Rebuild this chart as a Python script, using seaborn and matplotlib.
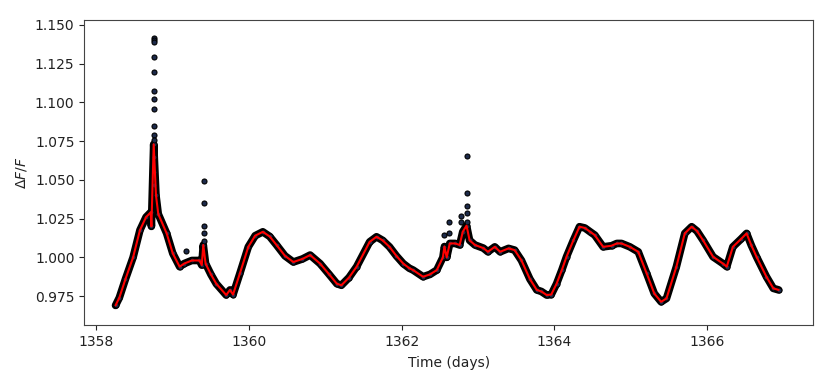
import numpy as np
import pandas as pd
import seaborn as sns
import matplotlib
matplotlib.use("Agg")
import matplotlib.pyplot as plt

###
### DATA
###

# smoothed flux trace
time_days = [
    1358.25, 1358.30, 1358.38, 1358.48, 1358.57, 1358.65, 1358.71, 1358.72,
    1358.75, 1358.78, 1358.81, 1358.92, 1359.00, 1359.09, 1359.15, 1359.25,
    1359.35, 1359.38, 1359.40, 1359.43, 1359.50, 1359.57, 1359.70, 1359.75,
    1359.79, 1359.88, 1359.99, 1360.08, 1360.18, 1360.27, 1360.36, 1360.47,
    1360.58, 1360.70, 1360.80, 1360.93, 1361.05, 1361.15, 1361.21, 1361.31,
    1361.41, 1361.58, 1361.67, 1361.75, 1361.84, 1361.93, 1362.02, 1362.10,
    1362.15, 1362.28, 1362.37, 1362.46, 1362.54, 1362.56, 1362.59, 1362.63,
    1362.70, 1362.76, 1362.80, 1362.85, 1362.89, 1362.96, 1363.07, 1363.13,
    1363.22, 1363.29, 1363.40, 1363.48, 1363.57, 1363.68, 1363.77, 1363.83,
    1363.90, 1363.96, 1364.03, 1364.10, 1364.16, 1364.25, 1364.33, 1364.40,
    1364.47, 1364.53, 1364.64, 1364.75, 1364.82, 1364.88, 1364.99, 1365.10,
    1365.21, 1365.31, 1365.40, 1365.47, 1365.60, 1365.71, 1365.80, 1365.87,
    1365.95, 1366.08, 1366.21, 1366.26, 1366.34, 1366.45, 1366.52, 1366.58,
    1366.65, 1366.78, 1366.87, 1366.94,
]
flux = [
    0.969, 0.974, 0.986, 1.000, 1.0176, 1.026, 1.029, 1.020,
    1.073, 1.040, 1.028, 1.0155, 1.0026, 0.994, 0.996, 0.998,
    0.998, 0.995, 1.008, 0.996, 0.989, 0.983, 0.9757, 0.979,
    0.976, 0.9897, 1.0068, 1.014, 1.0165, 1.0135, 1.008, 1.001,
    0.997, 0.999, 1.0015, 0.996, 0.989, 0.983, 0.982, 0.987,
    0.994, 1.010, 1.0133, 1.011, 1.0068, 1.001, 0.996, 0.993,
    0.9918, 0.9875, 0.989, 0.9918, 1.000, 1.007, 1.000, 1.009,
    1.009, 1.008, 1.0165, 1.0205, 1.011, 1.008, 1.006, 1.0036,
    1.0068, 1.0036, 1.0058, 1.0047, 0.998, 0.986, 0.979, 0.978,
    0.9757, 0.976, 0.983, 0.992, 1.0004, 1.011, 1.0198, 1.019,
    1.0165, 1.0144, 1.0068, 1.0075, 1.009, 1.009, 1.0068, 1.0036,
    0.9897, 0.9767, 0.9713, 0.9735, 0.994, 1.0155, 1.0198, 1.017,
    1.011, 1.0004, 0.996, 0.994, 1.0068, 1.012, 1.0155, 1.008,
    1.0004, 0.9875, 0.980, 0.979,
]

# flare / outlier points
flare_time = [
    1358.75, 1358.75, 1358.75, 1358.75, 1358.75, 1358.75, 1358.75,
    1358.75, 1358.75, 1358.75, 1358.75, 1358.76, 1358.76, 1358.76,
    1359.18, 1359.41, 1359.41, 1359.41, 1359.41, 1359.41,
    1362.56, 1362.62, 1362.62, 1362.78, 1362.78,
    1362.85, 1362.85, 1362.85, 1362.85, 1362.85,
]
flare_flux = [
    1.1415, 1.1400, 1.1388, 1.1291, 1.1197, 1.1074, 1.1024,
    1.0956, 1.0846, 1.0790, 1.0757, 1.065, 1.055, 1.047,
    1.004, 1.0493, 1.0349, 1.0204, 1.0155, 1.0107,
    1.0144, 1.0230, 1.0155, 1.027, 1.023,
    1.0654, 1.0417, 1.0333, 1.0284, 1.0230,
]

curve_df = pd.DataFrame({'time': time_days, 'flux': flux})
points_df = pd.DataFrame({'time': time_days + flare_time,
                          'flux': flux + flare_flux})

###
### PLOT
###

sns.set_style('ticks')
plt.rcParams['font.family'] = ['DejaVu Sans']

fig, ax = plt.subplots(figsize=(8.3, 3.78), dpi=100)
fig.subplots_adjust(left=0.1015, right=0.9795, top=0.947, bottom=0.14)

# dense band of observations
sns.lineplot(data=curve_df, x='time', y='flux', color='black', lw=5.5,
             estimator=None, sort=False, ax=ax, zorder=1,
             solid_joinstyle='round', solid_capstyle='round')
sns.scatterplot(data=points_df, x='time', y='flux', color='#1c2a4a',
                edgecolor='black', linewidth=0.8, s=13, ax=ax, zorder=2)
# smoothed trend
sns.lineplot(data=curve_df, x='time', y='flux', color='red', lw=1.5,
             estimator=None, sort=False, ax=ax, zorder=3)

ax.set_xlim(1357.84, 1367.39)
ax.set_ylim(0.9563, 1.1532)
ax.set_xticks([1358, 1360, 1362, 1364, 1366])
ax.set_yticks([0.975, 1.000, 1.025, 1.050, 1.075, 1.100, 1.125, 1.150])
ax.set_yticklabels(['{:.3f}'.format(v) for v in ax.get_yticks()])
ax.set_xlabel('Time (days)', fontsize=10, color='#222222', labelpad=5)
ax.set_ylabel(r'$\Delta F/F$', fontsize=10, color='#222222')
ax.tick_params(labelsize=10, colors='#222222')
for spine in ax.spines.values():
    spine.set_visible(True)
    spine.set_color('#444444')

fig.savefig('out.png', dpi=100)
